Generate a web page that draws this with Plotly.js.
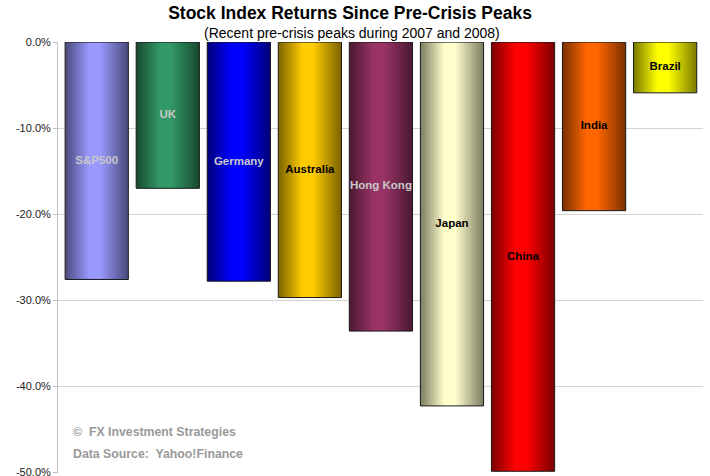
<!DOCTYPE html>
<html>
<head>
<meta charset="utf-8">
<script src="https://cdn.plot.ly/plotly-3.0.1.min.js"></script>
<style>
  html, body { margin: 0; padding: 0; background: #ffffff; }
  #chart { width: 710px; height: 476px; }
</style>
</head>
<body>
<div id="chart"></div>
<script>
// Stock index returns since pre-crisis peaks (percent)
const markets = ["S&P500", "UK", "Germany", "Australia", "Hong Kong", "Japan", "China", "India", "Brazil"];
const returns = [-27.6, -17.0, -27.8, -29.7, -33.6, -42.3, -49.9, -19.6, -5.9];

// Cylinder shading: bright centre colour and darker edge colour per bar
const centreColors = ["#9999ff", "#339966", "#0000ff", "#ffcc00", "#993366", "#ffffcc", "#ff0000", "#ff6600", "#ffff00"];
const edgeColors   = ["#4a4a7c", "#18482f", "#000078", "#7a6200", "#4a1831", "#7c7c62", "#7a0000", "#7a3000", "#7a7a00"];
const labelColors  = ["#c8c8c8", "#c8c8c8", "#c8c8c8", "#000000", "#c8c8c8", "#000000", "#000000", "#000000", "#000000"];

const yTicks = [0, -10, -20, -30, -40, -50];

const barWidth = 0.89;
const traces = [];

// each bar is a filled rectangle in data space with a horizontal gradient
markets.forEach((name, i) => {
  const x0 = i - barWidth / 2, x1 = i + barWidth / 2;
  traces.push({
    type: "scatter",
    mode: "lines",
    x: [x0, x1, x1, x0, x0],
    y: [0, 0, returns[i], returns[i], 0],
    fill: "toself",
    fillcolor: centreColors[i],
    fillgradient: {
      type: "horizontal",
      start: x0,
      stop: x1,
      colorscale: [
        [0, edgeColors[i]],
        [0.38, centreColors[i]],
        [0.55, centreColors[i]],
        [1, edgeColors[i]]
      ]
    },
    line: { color: "#1a1a1a", width: 1 },
    name: name,
    hoverinfo: "skip",
    showlegend: false
  });
});

// market names centred inside each bar
traces.push({
  type: "scatter",
  mode: "text",
  x: markets.map((_, i) => i),
  y: returns.map(v => v / 2),
  text: markets,
  textposition: "middle center",
  textfont: { family: "Liberation Sans, Arial, sans-serif", size: 11.5, weight: "bold", color: labelColors },
  cliponaxis: false,
  hoverinfo: "skip",
  showlegend: false
});

const layout = {
  width: 710,
  height: 476,
  margin: { l: 58, r: 7, t: 42, b: 3 },
  paper_bgcolor: "#ffffff",
  plot_bgcolor: "#ffffff",
  font: { family: "Liberation Sans, Arial, sans-serif", color: "#222222" },
  title: {
    text: "Stock Index Returns Since Pre-Crisis Peaks",
    font: { family: "Liberation Sans, Arial, sans-serif", size: 17.5, weight: "bold", color: "#000000" },
    x: 0.493, xanchor: "center",
    y: 0.973, yanchor: "middle"
  },
  xaxis: {
    range: [-0.545, 8.533],
    showticklabels: false,
    showgrid: false,
    zeroline: false,
    showline: false,
    ticks: "",
    fixedrange: true
  },
  yaxis: {
    range: [-50.1, 0.01],
    tickvals: yTicks,
    ticktext: yTicks.map(v => v.toFixed(1) + "%"),
    tickfont: { size: 11, color: "#222222" },
    ticklabeloverflow: "allow",
    showgrid: true,
    gridcolor: "#d4d4d4",
    gridwidth: 1,
    zeroline: false,
    showline: true,
    linecolor: "#c0c0c0",
    linewidth: 1,
    ticks: "outside",
    ticklen: 4,
    tickcolor: "#c0c0c0",
    fixedrange: true
  },
  annotations: [
    {
      text: "(Recent pre-crisis peaks during 2007 and 2008)",
      xref: "paper", yref: "paper",
      x: 0.456, y: 1.021, xanchor: "center", yanchor: "middle",
      showarrow: false,
      font: { family: "Liberation Sans, Arial, sans-serif", size: 14, color: "#000000" }
    },
    {
      text: "©  FX Investment Strategies",
      xref: "paper", yref: "paper",
      x: 0.02, y: 0.095, xanchor: "left", yanchor: "middle",
      showarrow: false,
      font: { family: "Liberation Sans, Arial, sans-serif", size: 12.3, weight: "bold", color: "#999999" }
    },
    {
      text: "Data Source:  Yahoo!Finance",
      xref: "paper", yref: "paper",
      x: 0.02, y: 0.044, xanchor: "left", yanchor: "middle",
      showarrow: false,
      font: { family: "Liberation Sans, Arial, sans-serif", size: 12.3, weight: "bold", color: "#999999" }
    }
  ],
  showlegend: false
};

Plotly.newPlot("chart", traces, layout, { displayModeBar: false, staticPlot: true });
</script>
</body>
</html>
